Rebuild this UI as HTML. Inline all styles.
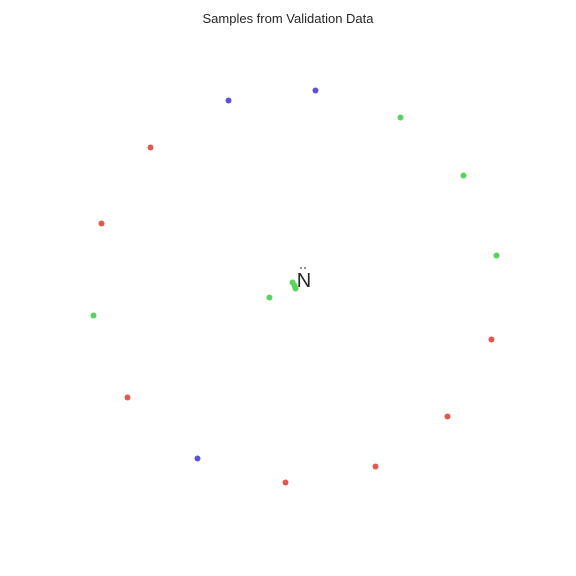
<!DOCTYPE html>
<html><head><meta charset="utf-8"><style>
body{margin:0;background:#fff}
svg{display:block}
</style></head><body>
<svg id="chart" width="576" height="576">
<text x="288" y="23" text-anchor="middle" font-family="Liberation Sans, sans-serif" font-size="13" fill="#262626">Samples from Validation Data</text>
<text x="304" y="287" text-anchor="middle" font-family="Liberation Sans, sans-serif" font-size="20" fill="#262626">N</text>
<line x1="300" y1="268" x2="308" y2="268" stroke="#262626" stroke-width="1" stroke-dasharray="2,2"/>
<g id="pts"></g>
</svg>
<script>
const xs=[228,315,197,150,101,127,285,375,447,491,400,463,496,93,269,292,294,295];
const ys=[100,90,458,147,223,397,482,466,416,339,117,175,255,315,297,282,285,288];
const cls=['b','b','b','r','r','r','r','r','r','r','g','g','g','g','g','g','g','g'];
const colors={r:'#e0594b',g:'#57d45a',b:'#5b53de'};
const g=document.getElementById('pts');
const sx=v=>v+0.5, sy=v=>v+0.5;
for(let i=0;i<xs.length;i++){
  const c=document.createElementNS('http://www.w3.org/2000/svg','circle');
  c.setAttribute('cx',sx(xs[i]));c.setAttribute('cy',sy(ys[i]));
  c.setAttribute('r',3);c.setAttribute('fill',colors[cls[i]]);
  
  
  g.appendChild(c);
}
</script>
</body></html>
